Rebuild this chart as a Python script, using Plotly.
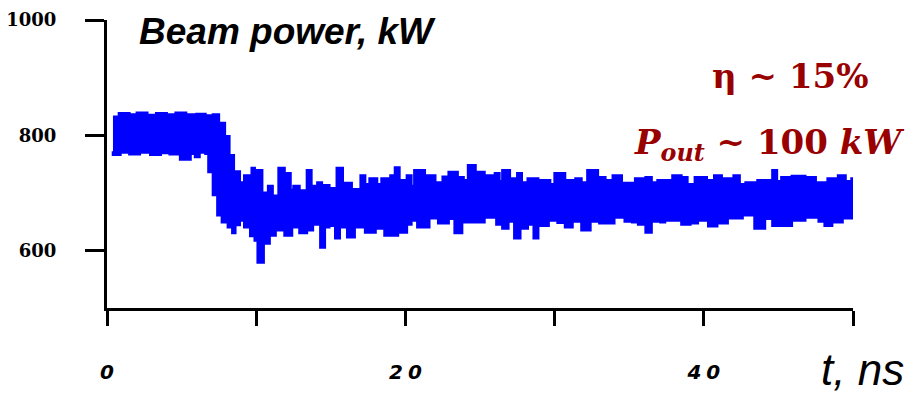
import plotly.graph_objects as go

# Beam power envelope (kW) versus time (ns): upper and lower extremes of the fast oscillation
upper_t = [0.4, 0.8, 1.5, 2.0, 2.7, 3.3, 4.0, 4.6, 5.3, 6.0, 6.6, 7.1, 7.5, 7.9, 8.2, 8.5, 8.9,
           9.2, 9.7, 9.9, 10.4, 10.8, 11.1, 11.5, 11.9, 12.3, 12.5, 12.9, 13.4, 13.7, 14.1, 14.4,
           14.9, 15.4, 15.8, 16.4, 17.0, 17.3, 17.6, 18.1, 18.4, 19.0, 19.3, 19.6, 20.1, 20.4,
           20.6, 21.3, 22.0, 22.5, 22.9, 23.5, 23.9, 24.2, 24.7, 25.3, 26.0, 26.3, 26.5, 27.0,
           27.5, 27.8, 28.2, 28.9, 29.4, 29.7, 30.0, 30.7, 31.4, 31.8, 32.2, 32.9, 33.4, 33.9,
           34.5, 35.4, 36.1, 36.5, 36.9, 37.9, 38.5, 38.9, 39.4, 40.2, 40.7, 41.2, 42.0, 42.4,
           42.8, 43.6, 44.6, 44.9, 45.2, 45.9, 46.8, 47.5, 48.3, 49.0, 49.5, 49.9, 50.1]
upper_v = [832, 838, 836, 839, 835, 838, 836, 839, 836, 837, 834, 836, 821, 798, 765, 737, 718,
           730, 743, 739, 700, 712, 695, 743, 734, 705, 712, 704, 739, 712, 718, 713,
           708, 743, 717, 706, 730, 715, 725, 715, 725, 730, 744, 722, 730, 712,
           739, 730, 718, 728, 736, 727, 722, 748, 736, 730, 734, 720, 739, 725,
           734, 718, 725, 722, 722, 715, 734, 722, 725, 718, 739, 727, 722, 730,
           717, 725, 727, 718, 722, 730, 727, 715, 727, 722, 730, 725, 730, 715,
           718, 722, 739, 720, 727, 729, 727, 718, 725, 730, 720, 725, 722]

lower_t = [0.4, 0.9, 1.5, 2.2, 2.9, 3.6, 4.2, 4.9, 5.6, 5.9, 6.2, 6.6, 6.8, 7.1, 7.4, 7.7, 8.1,
           8.4, 8.6, 8.9, 9.2, 9.6, 9.9, 10.1, 10.5, 10.9, 11.3, 11.9, 12.4, 12.9, 13.4, 13.8,
           14.3, 14.6, 14.9, 15.3, 15.6, 16.1, 16.6, 17.3, 18.0, 18.6, 19.5, 20.1, 20.4, 20.8,
           21.6, 22.2, 22.9, 23.3, 23.8, 24.5, 25.3, 26.1, 26.5, 26.9, 27.3, 27.7, 28.2, 28.6,
           28.9, 29.6, 30.2, 30.7, 31.2, 31.8, 32.4, 33.0, 33.4, 34.0, 34.7, 35.2, 35.6, 36.1,
           36.5, 37.1, 37.4, 38.5, 39.1, 39.6, 40.3, 40.9, 41.6, 42.6, 43.4, 44.1, 44.6, 45.0,
           45.9, 46.8, 47.7, 48.1, 48.6, 49.3, 50.1]
lower_v = [772, 766, 770, 767, 770, 766, 769, 767, 758, 768, 762, 770, 768, 736, 696, 661, 649,
           640, 630, 644, 652, 640, 625, 617, 579, 612, 626, 635, 626, 640, 630, 635,
           645, 605, 640, 643, 621, 640, 623, 640, 631, 638, 626, 631, 645, 652,
           640, 656, 647, 655, 630, 649, 649, 657, 645, 638, 650, 621, 638, 645,
           621, 643, 652, 648, 640, 650, 635, 650, 647, 647, 657, 650, 649, 645,
           631, 650, 649, 652, 645, 647, 652, 642, 647, 656, 661, 638, 655, 643,
           643, 652, 657, 650, 643, 649, 656]

x_ticks = [0, 20, 40]
x_ticktext = ["0", "2\u20050", "4\u20050"]
x_minor_ticks = [10, 30, 50]
y_ticks = [600, 800, 1000]
y_ticktext = ["600", "800", "1000"]

BLUE = "#0000FF"
RED = "#990000"

# closed band: upper envelope forward, lower envelope back
band_x = upper_t + lower_t[::-1]
band_y = upper_v + lower_v[::-1]

fig = go.Figure()
fig.add_trace(go.Scatter(
    x=band_x, y=band_y, mode="lines", fill="toself",
    fillcolor=BLUE, line=dict(color=BLUE, width=2.5, shape="hv"),
    hoverinfo="skip", showlegend=False,
))

fig.update_layout(
    width=912, height=396,
    margin=dict(l=107, r=59, t=20, b=88),
    paper_bgcolor="white", plot_bgcolor="white",
    showlegend=False,
    xaxis=dict(
        range=[0, 50], tickmode="array", tickvals=x_ticks, ticktext=x_ticktext,
        showgrid=False, zeroline=False, automargin=False,
        showline=True, linecolor="black", linewidth=3,
        ticks="outside", ticklen=15, tickwidth=3, tickcolor="black",
        ticklabelstandoff=29,
        tickfont=dict(family="DejaVu Sans", size=20, color="black",
                      weight="bold", style="italic"),
        minor=dict(tickmode="array", tickvals=x_minor_ticks, ticks="outside",
                   ticklen=15, tickwidth=3, tickcolor="black", showgrid=False),
    ),
    yaxis=dict(
        range=[500, 1000], tickmode="array", tickvals=y_ticks, ticktext=y_ticktext,
        showgrid=False, zeroline=False, automargin=False,
        showline=True, linecolor="black", linewidth=3,
        ticks="outside", ticklen=19, tickwidth=3, tickcolor="black",
        ticklabelstandoff=25,
        tickfont=dict(family="DejaVu Serif", size=18, color="black", weight="bold"),
    ),
)

fig.add_annotation(
    text="Beam power, kW", xref="paper", yref="paper",
    x=(137 - 107) / 746, y=1.0, xanchor="left", yanchor="middle",
    yshift=-11, showarrow=False,
    font=dict(family="Liberation Sans", size=37, color="black",
              weight="bold", style="italic"),
)
fig.add_annotation(
    text="\u03b7 ~ 15%", xref="paper", yref="paper",
    x=(790 - 107) / 746, y=1.0, xanchor="center", yanchor="middle",
    yshift=-56, showarrow=False,
    font=dict(family="DejaVu Serif", size=34, color=RED, weight="bold"),
)
fig.add_annotation(
    text="<i>P</i><sub><i>out</i></sub> ~ 100 <i>kW</i>", xref="paper", yref="paper",
    x=(906 - 107) / 746, y=1.0, xanchor="right", yanchor="middle",
    yshift=-124, showarrow=False,
    font=dict(family="DejaVu Serif", size=34, color=RED, weight="bold"),
)
fig.add_annotation(
    text="<i>t, ns</i>", xref="paper", yref="paper",
    x=(906 - 107) / 746, y=0.0, xanchor="right", yanchor="middle",
    yshift=-61, showarrow=False,
    font=dict(family="Liberation Sans", size=44, color="black"),
)

fig.write_html("out.html")
